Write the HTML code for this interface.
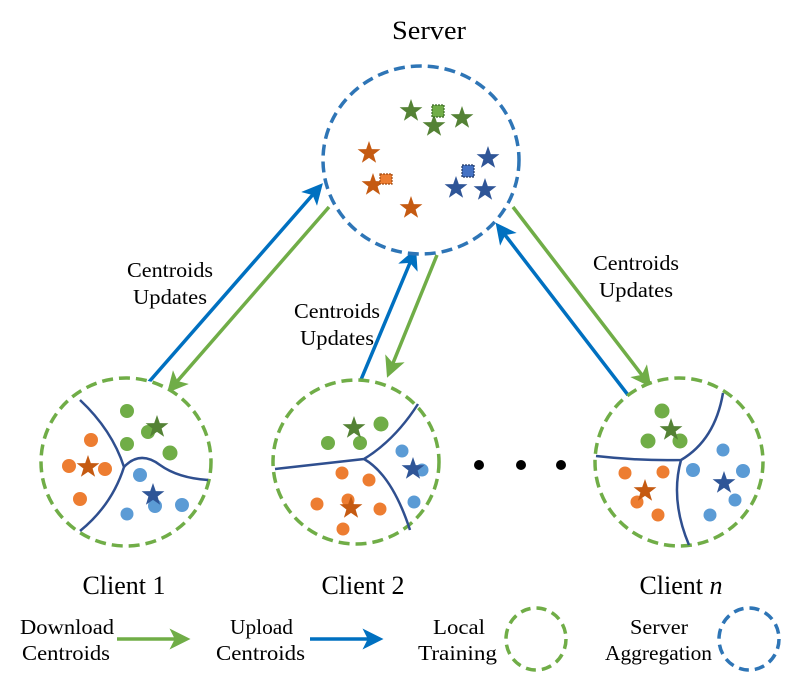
<!DOCTYPE html>
<html><head><meta charset="utf-8"><style>
html,body{margin:0;padding:0;background:#fff;}
svg{display:block;}
text{font-family:"Liberation Serif",serif;fill:#000;}
</style></head><body>
<svg width="803" height="688" viewBox="0 0 803 688" xmlns="http://www.w3.org/2000/svg">
<defs>
<polygon id="st" points="0,-12 2.8,-3.9 11.4,-3.7 4.6,1.5 7.1,9.8 0,4.9 -7.1,9.8 -4.6,1.5 -11.4,-3.7 -2.8,-3.9"/>
<marker id="ag" markerWidth="6" markerHeight="6" refX="3" refY="3" orient="auto" markerUnits="strokeWidth"><path d="M0,0 L6,3 L0,6 L1.5,3 z" fill="#70AD47"/></marker>
<marker id="ab" markerWidth="6" markerHeight="6" refX="3" refY="3" orient="auto" markerUnits="strokeWidth"><path d="M0,0 L6,3 L0,6 L1.5,3 z" fill="#0070C0"/></marker>
</defs>

<g stroke-width="3.5" fill="none">
<line x1="148" y1="383" x2="316" y2="191" stroke="#0070C0" marker-end="url(#ab)"/>
<line x1="329" y1="207" x2="174" y2="385" stroke="#70AD47" marker-end="url(#ag)"/>
<line x1="360" y1="382" x2="412" y2="258" stroke="#0070C0" marker-end="url(#ab)"/>
<line x1="437" y1="255" x2="391" y2="368" stroke="#70AD47" marker-end="url(#ag)"/>
<line x1="628" y1="395" x2="502" y2="231" stroke="#0070C0" marker-end="url(#ab)"/>
<line x1="513" y1="207" x2="645" y2="379" stroke="#70AD47" marker-end="url(#ag)"/>
</g>

<ellipse cx="421" cy="160" rx="98" ry="94" fill="#fff" stroke="#2E75B6" stroke-width="3.5" stroke-dasharray="11,6"/>
<g fill="#548235">
<use href="#st" x="411" y="111"/><use href="#st" x="434" y="126"/><use href="#st" x="462" y="118"/>
</g>
<rect x="432" y="105" width="12" height="12" fill="#70AD47" stroke="#3a6a25" stroke-width="1.2" stroke-dasharray="2,1"/>
<g fill="#C55A11">
<use href="#st" x="369" y="153"/><use href="#st" x="373" y="185"/><use href="#st" x="411" y="208"/>
</g>
<rect x="380" y="174" width="12" height="10" fill="#ED7D31" stroke="#a04a10" stroke-width="1.2" stroke-dasharray="2,1"/>
<g fill="#2F5597">
<use href="#st" x="488" y="158"/><use href="#st" x="456" y="188"/><use href="#st" x="485" y="190"/>
</g>
<rect x="462" y="165" width="12" height="12" fill="#4472C4" stroke="#203864" stroke-width="1.2" stroke-dasharray="2,1"/>

<g fill="#fff" stroke="#70AD47" stroke-width="3.5" stroke-dasharray="11,6">
<ellipse cx="126" cy="462" rx="85" ry="84"/>
<ellipse cx="356" cy="462" rx="83" ry="82"/>
<ellipse cx="679" cy="462" rx="84" ry="84"/>
</g>
<g stroke="#2F4F8F" stroke-width="2.5" fill="none">
<path d="M80,400 Q112,430 124,467 Q112,505 80,531"/>
<path d="M124,467 Q140,450 160,465 Q178,478 208,480"/>
<path d="M275,469 L364,459 Q395,440 418,404"/>
<path d="M364,459 Q392,475 410,530"/>
<path d="M596,456 Q640,461 681,460 Q715,440 723,393"/>
<path d="M681,460 Q670,500 689,545"/>
</g>
<g fill="#70AD47">
<circle cx="127" cy="411" r="7"/><circle cx="127" cy="444" r="7"/><circle cx="148" cy="432" r="7"/><circle cx="170" cy="453" r="7.5"/>
<circle cx="328" cy="443" r="7"/><circle cx="360" cy="443" r="7"/><circle cx="381" cy="424" r="7.5"/>
<circle cx="662" cy="411" r="7.5"/><circle cx="648" cy="441" r="7.5"/><circle cx="680" cy="441" r="7.5"/>
</g>
<g fill="#ED7D31">
<circle cx="91" cy="440" r="7"/><circle cx="69" cy="466" r="7"/><circle cx="105" cy="469" r="7"/><circle cx="80" cy="499" r="7"/>
<circle cx="342" cy="473" r="6.5"/><circle cx="369" cy="480" r="6.5"/><circle cx="317" cy="504" r="6.5"/><circle cx="348" cy="500" r="6.5"/><circle cx="380" cy="509" r="6.5"/><circle cx="343" cy="529" r="6.5"/>
<circle cx="625" cy="473" r="6.5"/><circle cx="663" cy="472" r="6.5"/><circle cx="637" cy="502" r="6.5"/><circle cx="658" cy="515" r="6.5"/>
</g>
<g fill="#5B9BD5">
<circle cx="140" cy="475" r="7"/><circle cx="155" cy="506" r="7"/><circle cx="127" cy="514" r="6.5"/><circle cx="182" cy="505" r="7"/>
<circle cx="402" cy="451" r="6.5"/><circle cx="422" cy="470" r="6.5"/><circle cx="414" cy="502" r="6.5"/>
<circle cx="723" cy="450" r="6.5"/><circle cx="693" cy="470" r="7"/><circle cx="743" cy="471" r="7"/><circle cx="735" cy="500" r="6.5"/><circle cx="710" cy="515" r="6.5"/>
</g>
<g fill="#548235"><use href="#st" x="157" y="427"/><use href="#st" x="354" y="428"/><use href="#st" x="671" y="430"/></g>
<g fill="#C55A11"><use href="#st" x="88" y="467"/><use href="#st" x="351" y="508"/><use href="#st" x="645" y="491"/></g>
<g fill="#2F5597"><use href="#st" x="153" y="495"/><use href="#st" x="413" y="469"/><use href="#st" x="724" y="483"/></g>

<g fill="#000"><circle cx="479" cy="465" r="5"/><circle cx="521" cy="465" r="5"/><circle cx="561" cy="465" r="5"/></g>

<text x="392" y="39" font-size="26" textLength="74" lengthAdjust="spacingAndGlyphs">Server</text>
<g font-size="21">
<text x="127" y="277" textLength="86" lengthAdjust="spacingAndGlyphs">Centroids</text><text x="133" y="304" textLength="74" lengthAdjust="spacingAndGlyphs">Updates</text>
<text x="294" y="318" textLength="86" lengthAdjust="spacingAndGlyphs">Centroids</text><text x="300" y="345" textLength="74" lengthAdjust="spacingAndGlyphs">Updates</text>
<text x="593" y="270" textLength="86" lengthAdjust="spacingAndGlyphs">Centroids</text><text x="599" y="297" textLength="74" lengthAdjust="spacingAndGlyphs">Updates</text>
</g>
<g font-size="26" text-anchor="middle">
<text x="124" y="594">Client 1</text>
<text x="363" y="594">Client 2</text>
<text x="681" y="594">Client <tspan font-style="italic">n</tspan></text>
</g>

<g font-size="21">
<text x="20" y="634" textLength="94" lengthAdjust="spacingAndGlyphs">Download</text><text x="22" y="660" textLength="88" lengthAdjust="spacingAndGlyphs">Centroids</text>
<text x="230" y="634" textLength="63" lengthAdjust="spacingAndGlyphs">Upload</text><text x="216" y="660" textLength="89" lengthAdjust="spacingAndGlyphs">Centroids</text>
<text x="433" y="634" textLength="52" lengthAdjust="spacingAndGlyphs">Local</text><text x="418" y="660" textLength="79" lengthAdjust="spacingAndGlyphs">Training</text>
<text x="630" y="634" textLength="58" lengthAdjust="spacingAndGlyphs">Server</text><text x="605" y="660" textLength="107" lengthAdjust="spacingAndGlyphs">Aggregation</text>
</g>
<line x1="117" y1="639" x2="180" y2="639" stroke="#70AD47" stroke-width="3.5" marker-end="url(#ag)"/>
<line x1="310" y1="639" x2="373" y2="639" stroke="#0070C0" stroke-width="3.5" marker-end="url(#ab)"/>
<ellipse cx="536" cy="639" rx="30" ry="31" fill="none" stroke="#70AD47" stroke-width="3.5" stroke-dasharray="10,6"/>
<ellipse cx="749" cy="639" rx="30" ry="31" fill="none" stroke="#2E75B6" stroke-width="3.5" stroke-dasharray="10,6"/>
</svg>
</body></html>
